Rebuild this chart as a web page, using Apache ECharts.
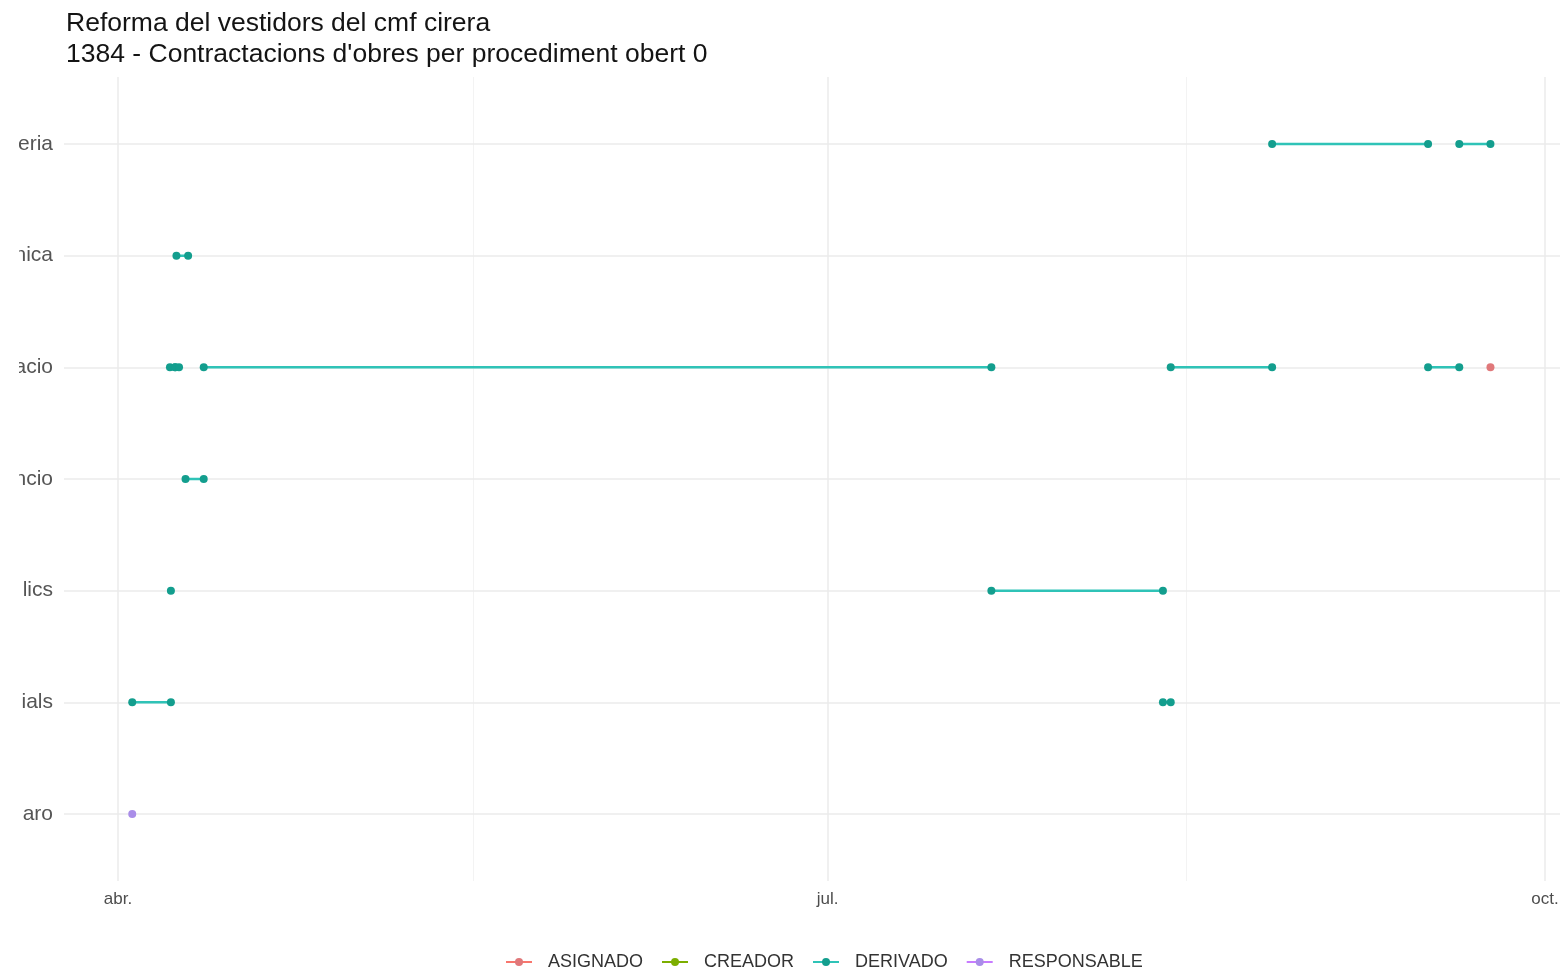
<!DOCTYPE html>
<html>
<head>
<meta charset="utf-8">
<style>html,body{margin:0;padding:0;background:#fff;}#c{width:1564px;height:978px;}</style>
<script src="https://cdn.jsdelivr.net/npm/echarts@6/dist/echarts.min.js"></script>
</head>
<body>
<div id="c"></div>
<script>
// ---- data ----
const titleLines = ['Reforma del vestidors del cmf cirera', "1384 - Contractacions d'obres per procediment obert 0"];
const categories = ['eria', 'nica', 'acio', 'ncio', 'lics', 'ials', 'aro']; // top to bottom
const statuses = ['ASIGNADO', 'CREADOR', 'DERIVADO', 'RESPONSABLE'];
const tickDates = ['2023-04-01', '2023-07-01', '2023-10-01'];
const tickLabels = ['abr.', 'jul.', 'oct.'];
const minorDates = ['2023-05-16T12:00', '2023-08-16'];
const xRange = ['2023-03-25T02:00', '2023-10-02T22:00'];
// segments: [category, start, end]
const asignado = [
  ['acio', '2023-09-24', '2023-09-24']
];
const creador = [];
const derivado = [
  ['eria', '2023-08-27', '2023-09-16'],
  ['eria', '2023-09-20', '2023-09-24'],
  ['nica', '2023-04-08T12:00', '2023-04-10'],
  ['acio', '2023-04-07T16:00', '2023-04-08T08:00'],
  ['acio', '2023-04-08T08:00', '2023-04-08T20:00'],
  ['acio', '2023-04-12', '2023-07-22'],
  ['acio', '2023-08-14', '2023-08-27'],
  ['acio', '2023-09-16', '2023-09-20'],
  ['ncio', '2023-04-09T16:00', '2023-04-12'],
  ['lics', '2023-04-07T19:00', '2023-04-07T19:00'],
  ['lics', '2023-07-22', '2023-08-13'],
  ['ials', '2023-04-02T20:00', '2023-04-07T19:00'],
  ['ials', '2023-08-13', '2023-08-14']
];
const responsable = [
  ['aro', '2023-04-02T20:00', '2023-04-02T20:00']
];

// ---- build ----
function ts(s) { return new Date(s.length <= 10 ? s + 'T00:00:00' : s + (s.length === 16 ? ':00' : '')).getTime(); }
const colors = {
  ASIGNADO: { line: '#F8766D', point: '#e0787a' },
  CREADOR: { line: '#7CAE00', point: '#7CAE00' },
  DERIVADO: { line: '#2fc3b7', point: '#139e8e' },
  RESPONSABLE: { line: '#C77CFF', point: '#a98de8' }
};
const segMap = { ASIGNADO: asignado, CREADOR: creador, DERIVADO: derivado, RESPONSABLE: responsable };

const series = [];
const gridLines = [];
tickDates.forEach(d => gridLines.push({ xAxis: ts(d), lineStyle: { color: '#ebebeb', width: 1.5, type: 'solid' } }));
minorDates.forEach(d => gridLines.push({ xAxis: ts(d), lineStyle: { color: '#f3f3f3', width: 1, type: 'solid' } }));
categories.forEach((c, i) => gridLines.push({ yAxis: i + 1, lineStyle: { color: '#ebebeb', width: 1.5, type: 'solid' } }));
series.push({
  type: 'line', name: '_grid', data: [], z: 1, silent: true,
  markLine: { silent: true, symbol: ['none', 'none'], label: { show: false }, animation: false, data: gridLines }
});

statuses.forEach(st => {
  const segs = segMap[st];
  const base = {
    type: 'line', name: st, z: 10, showSymbol: true, showAllSymbol: true,
    symbol: 'circle', symbolSize: 8, animation: false,
    lineStyle: { color: colors[st].line, width: 2.5 },
    itemStyle: { color: colors[st].point },
    emphasis: { disabled: true }
  };
  if (segs.length === 0) {
    series.push(Object.assign({}, base, { data: [] }));
  }
  segs.forEach(s => {
    const y = categories.indexOf(s[0]) + 1;
    const pts = s[1] === s[2] ? [[ts(s[1]), y]] : [[ts(s[1]), y], [ts(s[2]), y]];
    series.push(Object.assign({}, base, { data: pts }));
  });
});

const tickTs = tickDates.map(ts);
const chart = echarts.init(document.getElementById('c'), null, { renderer: 'canvas' });
chart.setOption({
  backgroundColor: '#fff',
  animation: false,
  textStyle: { fontFamily: 'Liberation Sans, Arial, sans-serif' },
  title: {
    text: titleLines.join('\n'),
    left: 61, top: 3,
    textStyle: { fontSize: 26.5, lineHeight: 31, fontWeight: 'normal', color: '#141414', fontFamily: 'Liberation Sans' }
  },
  grid: { left: 64, right: 4, top: 77, bottom: 97, containLabel: false },
  xAxis: {
    type: 'value',
    min: ts(xRange[0]), max: ts(xRange[1]),
    axisLine: { show: false }, axisTick: { show: false }, splitLine: { show: false },
    axisLabel: {
      customValues: tickTs,
      formatter: function (v) { const i = tickTs.indexOf(v); return i >= 0 ? tickLabels[i] : ''; },
      fontSize: 17, color: '#4d4d4d', margin: 10
    }
  },
  yAxis: {
    type: 'value', min: 0.4, max: 7.6, inverse: true,
    axisLine: { show: false }, axisTick: { show: false }, splitLine: { show: false },
    axisLabel: {
      customValues: categories.map((c, i) => i + 1),
      formatter: function (v) { return categories[Math.round(v) - 1] || ''; },
      fontSize: 21, color: '#555', margin: 11
    }
  },
  legend: {
    data: statuses,
    bottom: 2, left: 500,
    itemWidth: 26, itemHeight: 10, itemGap: 18,
    textStyle: { fontSize: 18, color: '#333', padding: [0, 0, 0, 11] }
  },
  graphic: [{
    type: 'rect', z: 100, silent: true,
    shape: { x: 0, y: 90, width: 19, height: 770 },
    style: { fill: '#fff' }
  }],
  series: series
});
</script>
</body>
</html>
